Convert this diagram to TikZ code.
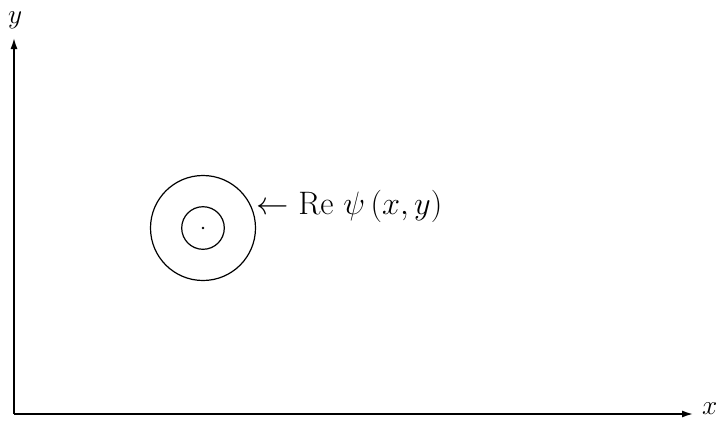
\documentclass[tikz,border=0pt]{standalone}
\usetikzlibrary{arrows.meta}
\begin{document}
\begin{tikzpicture}[x=1pt,y=-1pt,
  axis/.style={line width=2.3pt,-{Latex[length=12pt,width=7pt]}},
  ring/.style={line width=1.2pt},
  lbl/.style={inner sep=0pt,font=\fontsize{25}{30}\selectfont}]
\useasboundingbox (0,0) rectangle (720,424);
\coordinate (o) at (14,414);
\coordinate (ytip) at (14,37);
\coordinate (xtip) at (694,414);
\draw[axis] (o) -- (ytip);
\draw[axis] (o) -- (xtip);
\node[lbl,anchor=base west] (ylab) at (8,23) {\scalebox{1.1}{$y$}};
\node[lbl,anchor=base west] (xlab) at (702,414) {\scalebox{1.1}{$x$}};
\coordinate (c) at (203,228);
\draw[ring] (c) circle[radius=52.5];
\draw[ring] (c) circle[radius=21.3];
\fill (c) circle[radius=1.3];
\node[lbl,anchor=base west] (psi) at (256,214) {\scalebox{1.3}{$\leftarrow$ Re $\psi\,(x,y)$}};
\end{tikzpicture}
\end{document}
